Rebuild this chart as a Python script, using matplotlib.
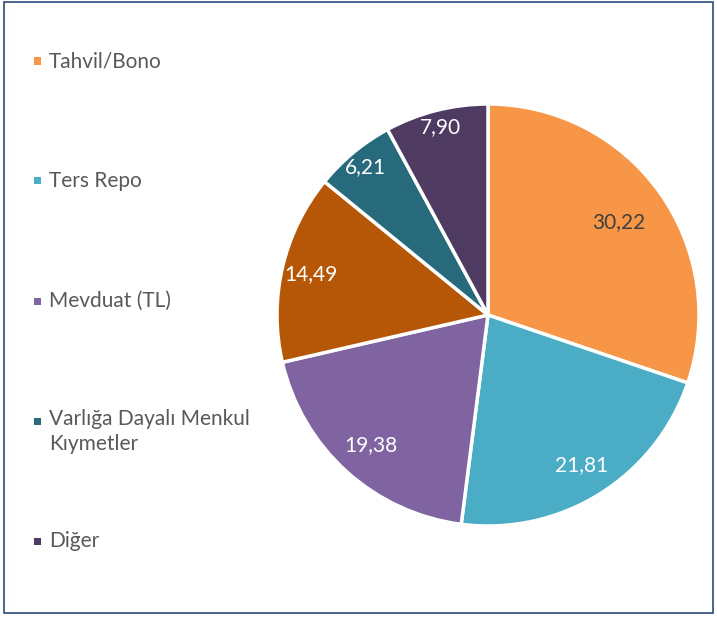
import numpy as np
import matplotlib
matplotlib.use("Agg")
import matplotlib.pyplot as plt
from matplotlib.patches import Rectangle

# Data
slice_values = [30.22, 21.81, 19.38, 14.49, 6.21, 7.90]
slice_labels_txt = ["30,22", "21,81", "19,38", "14,49", "6,21", "7,90"]
slice_colors = ["#F79646", "#4BACC6", "#8064A2", "#B65708", "#276A7C", "#4F3B62"]
label_text_colors = ["#404040", "white", "white", "white", "white", "white"]
label_radius = [0.76, 0.84, 0.83, 0.86, 0.91, 0.92]

legend_names = ["Tahvil/Bono", "Ters Repo", "Mevduat (TL)",
                "Varlığa Dayalı Menkul\nKıymetler", "Diğer"]
legend_colors = ["#F79646", "#4BACC6", "#8064A2", "#276A7C", "#4F3B62"]

plt.rcParams['font.family'] = ['Lato', 'DejaVu Sans']
FW = "normal"
FS = 15

W, H = 717, 617
fig = plt.figure(figsize=(W / 100, H / 100), dpi=100)
fig.patch.set_facecolor("white")

# frame border
fig.add_artist(Rectangle((4 / W, 4 / H), (713 - 4) / W, (615 - 4) / H,
                         transform=fig.transFigure, fill=False,
                         edgecolor="#2E4A7A", linewidth=1.2))

cx, cy, r = 488, 315, 211
ax = fig.add_axes([(cx - r) / W, (H - cy - r) / H, 2 * r / W, 2 * r / H])
wedges, _ = ax.pie(slice_values, colors=slice_colors, startangle=90, counterclock=False,
                   radius=1.0, wedgeprops=dict(edgecolor="white", linewidth=2.5))
ax.set_xlim(-1.0, 1.0)
ax.set_ylim(-1.0, 1.0)
ax.axis("off")

for w, txt, c, rd in zip(wedges, slice_labels_txt, label_text_colors, label_radius):
    ang = np.deg2rad((w.theta1 + w.theta2) / 2)
    ax.text(rd * np.cos(ang), rd * np.sin(ang), txt, ha="center", va="center",
            fontsize=FS, color=c, fontweight=FW)

# legend
ys = [61, 181, 301, 421, 541]
for y, name, col in zip(ys, legend_names, legend_colors):
    s = 7
    fig.add_artist(Rectangle(((37 - s / 2) / W, (H - y - s / 2) / H), s / W, s / H,
                             transform=fig.transFigure, facecolor=col, edgecolor="none"))
    if "\n" in name:
        fig.text(49 / W, (H - y + 12) / H, name, ha="left", va="top",
                 fontsize=FS, color="#595959", linespacing=1.3, fontweight=FW)
    else:
        fig.text(49 / W, (H - y) / H, name, ha="left", va="center",
                 fontsize=FS, color="#595959", fontweight=FW)

fig.savefig("out.png", dpi=100, facecolor="white")
